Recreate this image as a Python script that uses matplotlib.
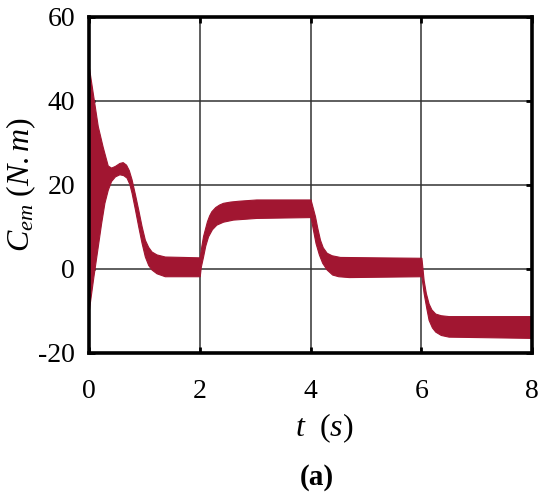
import matplotlib
matplotlib.use("Agg")
import matplotlib.pyplot as plt
import numpy as np

# Envelope of the electromagnetic torque ripple (upper / lower bounds), N.m
t_upper = [0.0, 0.08, 0.16, 0.25, 0.34, 0.40, 0.47, 0.55, 0.61, 0.67, 0.72, 0.77, 0.83, 0.89,
           0.95, 1.01, 1.07, 1.13, 1.22, 1.37, 1.7, 2.0,
           2.03, 2.06, 2.09, 2.13, 2.17, 2.21, 2.28, 2.35, 2.42, 2.55, 2.7, 3.02, 4.0,
           4.04, 4.08, 4.12, 4.17, 4.22, 4.29, 4.38, 4.53, 5.2, 6.0,
           6.02, 6.04, 6.08, 6.13, 6.18, 6.25, 6.35, 6.49, 8.0]
c_upper = [48.0, 41.0, 34.0, 29.0, 24.6, 24.1, 24.5, 25.2, 25.4, 24.8, 23.5, 21.3, 17.8, 14.1,
           10.2, 6.9, 5.2, 4.1, 3.4, 2.9, 2.8, 2.7,
           5.5, 7.8, 9.3, 11.3, 12.7, 13.7, 14.7, 15.3, 15.7, 16.0, 16.2, 16.5, 16.5,
           14.5, 12.5, 9.8, 6.9, 5.1, 3.8, 3.2, 2.8, 2.7, 2.6,
           0.0, -2.7, -5.8, -8.3, -9.7, -10.7, -11.1, -11.3, -11.3]

t_lower = [0.0, 0.08, 0.16, 0.22, 0.28, 0.34, 0.40, 0.47, 0.55, 0.62, 0.68, 0.73, 0.77, 0.83,
           0.89, 0.95, 1.01, 1.07, 1.13, 1.22, 1.37, 2.0,
           2.02, 2.06, 2.10, 2.15, 2.22, 2.30, 2.42, 2.60, 3.02, 4.0,
           4.04, 4.09, 4.15, 4.21, 4.29, 4.39, 4.5, 4.69, 6.0,
           6.04, 6.09, 6.13, 6.19, 6.25, 6.35, 6.49, 8.0]
c_lower = [-9.8, -2.0, 5.3, 10.8, 15.7, 18.8, 20.9, 22.0, 22.5, 22.3, 21.7, 20.2, 18.1, 14.2,
           10.1, 6.2, 2.9, 0.9, -0.2, -1.1, -1.8, -1.8,
           0.5, 2.9, 5.5, 7.7, 9.4, 10.5, 11.2, 11.7, 12.1, 12.3,
           9.5, 6.1, 3.4, 1.4, -0.2, -1.4, -1.8, -2.0, -1.8,
           -5.8, -9.5, -12.2, -14.0, -15.0, -15.8, -16.2, -16.5]

x_ticks = [0, 2, 4, 6, 8]
y_ticks = [-20, 0, 20, 40, 60]

plt.rcParams['font.family'] = ['Liberation Serif', 'DejaVu Serif']
plt.rcParams['mathtext.fontset'] = 'custom'
plt.rcParams['mathtext.rm'] = 'Liberation Serif'
plt.rcParams['mathtext.it'] = 'Liberation Serif:italic'

fig = plt.figure(figsize=(5.42, 4.95), dpi=100)
ax = fig.add_axes([0.164, 0.2877, 0.818, 0.678])

# resample both bounds on a common time grid for the band
t = np.union1d(t_upper, t_lower)
hi = np.interp(t, t_upper, c_upper)
lo = np.interp(t, t_lower, c_lower)
ax.fill_between(t, lo, hi, color='#a11631', linewidth=0.8, edgecolor='#a11631', zorder=3)

ax.set_xlim(0, 8)
ax.set_ylim(-20, 60)
ax.set_xticks(x_ticks)
ax.set_yticks(y_ticks)
ax.set_yticklabels([str(v) for v in y_ticks])
ax.grid(True, color='#333333', linewidth=1.1, zorder=1)
ax.tick_params(direction='in', length=4, width=2, labelsize=20,
               top=True, right=True, pad=10)
ax.tick_params(axis='x', pad=19)
for s in ax.spines.values():
    s.set_linewidth(2.6)
    s.set_zorder(5)

ax.set_ylabel(r'$C_{em}\ (N.m)$', fontsize=23, labelpad=0)
fig.text(0.598, 0.135, r'$t\ \ (s)$', fontsize=23, ha='center', va='center')
fig.text(0.585, 0.036, '(a)', fontsize=21, fontweight='bold', ha='center', va='center')

fig.savefig('out.png', dpi=100)
